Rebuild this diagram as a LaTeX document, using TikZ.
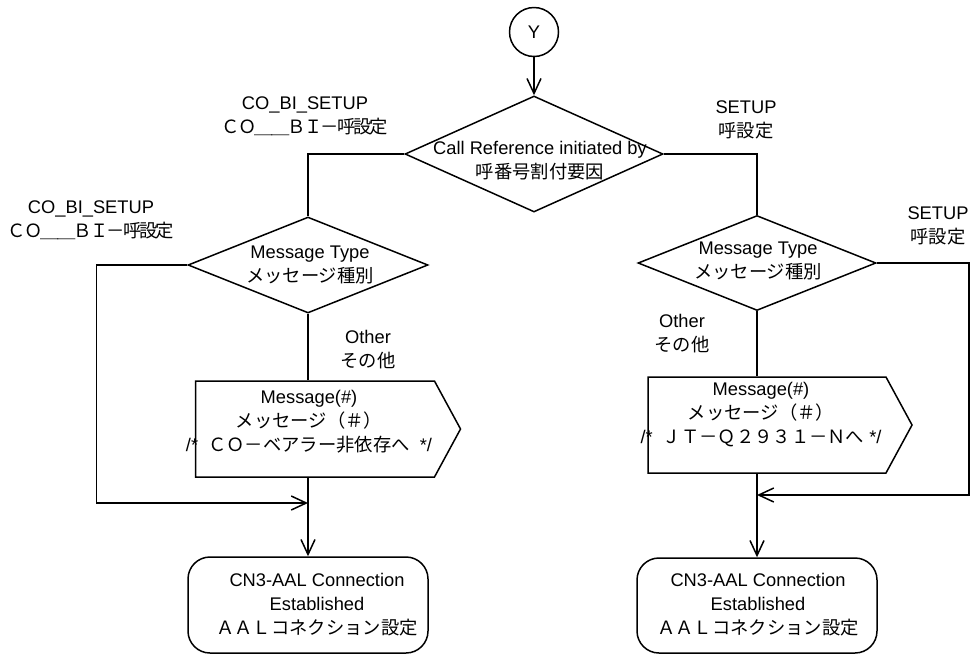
\documentclass[tikz,border=0pt]{standalone}
\usepackage{fontspec}
\setmainfont{Liberation Sans}
\newfontfamily\jp{Noto Sans CJK JP}
\newfontfamily\jpnarrow[LetterSpace=-10]{Noto Sans CJK JP}
\usetikzlibrary{shapes.geometric,shapes.symbols,arrows.meta}

\begin{document}
\begin{tikzpicture}[x=1pt,y=-1pt,
  line width=1.5pt,
  every node/.style={font=\fontsize{18.3}{24}\selectfont, inner sep=0pt, align=center},
  arr/.style={-{Straight Barb[length=15pt,width=14pt]}},
  decision/.style={draw, diamond, minimum width=#1},
  decision/.default=240pt,
  msgbox/.style={draw, signal, signal to=east, signal pointer angle=123,
    minimum width=265pt, minimum height=96pt},
  terminal/.style={draw, rectangle, rounded corners=22pt,
    minimum width=240pt, minimum height=96pt},
  connector/.style={draw, circle, minimum size=49pt},
  txt/.style={}]
\useasboundingbox (0,0) rectangle (973,657);

% entry connector and first decision
\node[connector] (y) at (534,32) {Y};
\node[decision=258pt, minimum height=116pt] (d0) at (534,154) {};
\node[txt] (d0t) at (540,160.5) {Call Reference initiated by\\{\jp 呼番号割付要因}};

% message type decisions
\node[decision=240pt, minimum height=96pt] (mtL) at (308,265) {};
\node[txt] (mtLt) at (310,265) {Message Type\\{\jp メッセージ種別}};
\node[decision=238pt, minimum height=95pt] (mtR) at (757,263) {};
\node[txt] (mtRt) at (758,261) {Message Type\\{\jp メッセージ種別}};

% message output boxes
\node[msgbox] (msgL) at (315,429) {};
\node[txt] (msgLt) at (309,421.5) {Message(\#)\\{\jp メッセージ（＃）}\\/*\ \ {\jp ＣＯ－ベアラー非依存へ}\ \ */};
\node[msgbox, minimum width=264pt] (msgR) at (767,425) {};
\node[txt] (msgRt) at (761,414.5) {Message(\#)\\{\jp メッセージ（＃）}\\/*\ \ {\jp ＪＴ－Ｑ２９３１－Ｎへ}\ */};

% terminals
\node[terminal] (termL) at (308,605) {};
\node[txt] (termLt) at (317,605) {CN3-AAL Connection\\Established\\{\jp ＡＡＬコネクション設定}};
\node[terminal, minimum height=95pt] (termR) at (757,605.5) {};
\node[txt] (termRt) at (758,605) {CN3-AAL Connection\\Established\\{\jp ＡＡＬコネクション設定}};

% branch labels
\node[txt] (l1) at (305,116) {CO\_BI\_SETUP\\{\jpnarrow ＣＯ＿＿ＢＩ－呼設定}};
\node[txt] (l2) at (91,220.5) {CO\_BI\_SETUP\\{\jpnarrow ＣＯ＿＿ＢＩ－呼設定}};
\node[txt] (l3) at (746,119.5) {SETUP\\{\jp 呼設定}};
\node[txt] (l4) at (938,225.5) {SETUP\\{\jp 呼設定}};
\node[txt] (l5) at (368,349.5) {Other\\{\jp その他}};
\node[txt] (l6) at (682,333.5) {Other\\{\jp その他}};

% merge points
\coordinate (jL) at (308,503);
\coordinate (jR) at (757,495);

% connectors
\draw[arr] (y) -- (d0);
\draw (d0.west) -| (mtL.north);
\draw (d0.east) -| (mtR.north);

\draw (mtL.south) -- (mtL.south |- msgL.north);
\draw[arr] (mtL.west) -- +(-91,0) |- (jL);
\draw[arr] (jL |- msgL.south) -- (termL.north);

\draw (mtR.south) -- (mtR.south |- msgR.north);
\draw[arr] (mtR.east) -- +(92,0) |- (jR);
\draw[arr] (jR |- msgR.south) -- (termR.north);
\end{tikzpicture}
\end{document}
